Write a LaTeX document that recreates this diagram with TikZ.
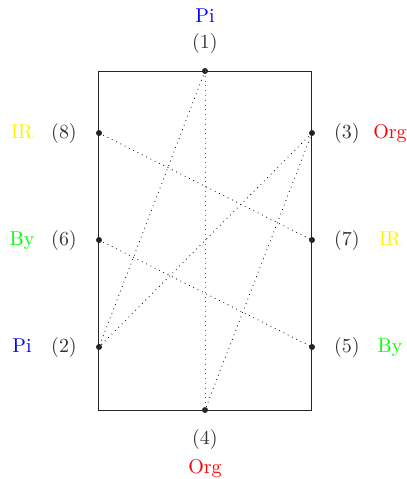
\documentclass[tikz,border=0pt]{standalone}
\begin{document}
\begin{tikzpicture}[x=0.5pt,y=-0.5pt,
  pt/.style={circle,fill=black!85,inner sep=0pt,minimum size=3pt},
  num/.style={anchor=base,text=black!80,inner sep=0pt},
  lab/.style={anchor=base,inner sep=0pt},
  link/.style={dotted,black,line width=0.4pt}]
\useasboundingbox (0,0) rectangle (407,479);
\draw[black!85,line width=0.5pt] (99,71) rectangle (312,410);
\node[pt] (p1) at (205,71) {};
\node[pt] (p8) at (99,133) {};
\node[pt] (p6) at (99,240) {};
\node[pt] (p2) at (99,347) {};
\node[pt] (p3) at (312,133) {};
\node[pt] (p7) at (312,240) {};
\node[pt] (p5) at (312,347) {};
\node[pt] (p4) at (205,410) {};
\draw[link] (p1.center) -- (p2.center);
\draw[link,black!60] (p1.center) -- (p4.center);
\draw[link] (p3.center) -- (p2.center);
\draw[link] (p3.center) -- (p4.center);
\draw[link] (p8.center) -- (p7.center);
\draw[link] (p6.center) -- (p5.center);
\node[num] (n1) at (205,48) {(1)};
\node[lab,text=blue] (c1) at (205,22) {Pi};
\node[num] (n4) at (205,444) {(4)};
\node[lab,text=red] (c4) at (205,473) {Org};
\node[num] (n8) at (64,138) {(8)};
\node[lab,text=yellow] (c8) at (22,138) {IR};
\node[num] (n6) at (64,245) {(6)};
\node[lab,text=green] (c6) at (22,245) {By};
\node[num] (n2) at (64,352) {(2)};
\node[lab,text=blue] (c2) at (22,352) {Pi};
\node[num] (n3) at (347,138) {(3)};
\node[lab,text=red] (c3) at (390,138) {Org};
\node[num] (n7) at (347,245) {(7)};
\node[lab,text=yellow] (c7) at (390,245) {IR};
\node[num] (n5) at (347,352) {(5)};
\node[lab,text=green] (c5) at (390,352) {By};
\end{tikzpicture}
\end{document}
